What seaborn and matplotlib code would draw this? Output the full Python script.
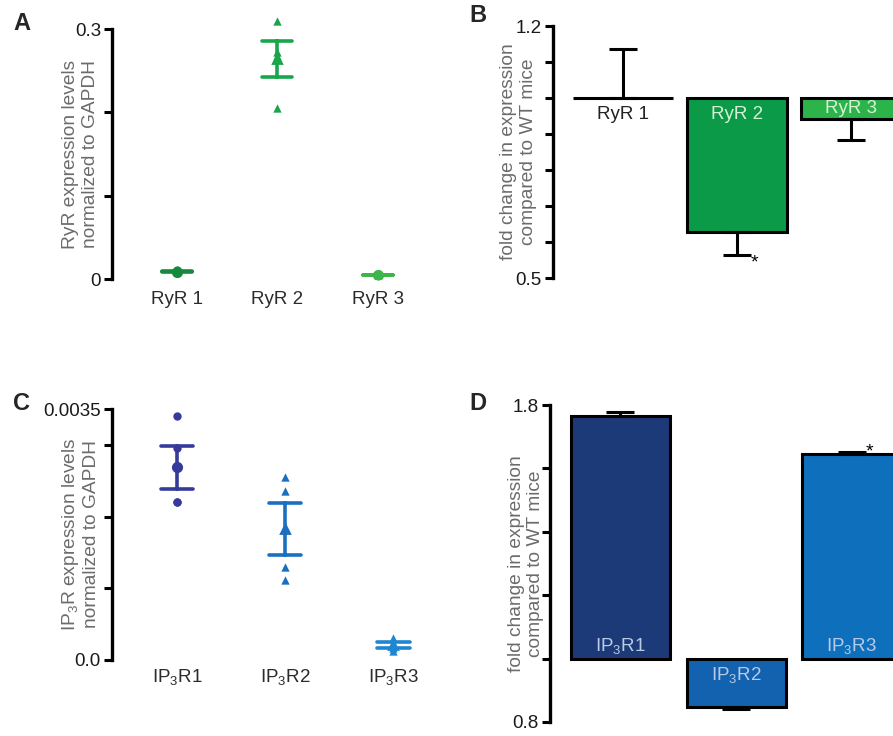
import numpy as np
import pandas as pd
import seaborn as sns
from matplotlib import pyplot as plt

# ---- data ----
RYR_NAMES = ["RyR 1", "RyR 2", "RyR 3"]
RYR1_POINTS = [0.0105, 0.0085, 0.0075, 0.0090]
RYR2_POINTS = [0.310, 0.272, 0.268, 0.205]
RYR3_POINTS = [0.0050, 0.0055, 0.0045, 0.0042]

IP3R_NAMES = ["IP$_3$R1", "IP$_3$R2", "IP$_3$R3"]
IP3R1_POINTS = [0.00340, 0.00295, 0.00220, 0.00220]
IP3R2_POINTS = [0.00255, 0.00236, 0.00129, 0.00111]
IP3R3_POINTS = [0.00030, 0.00023, 0.00017, 0.00013]

RYR_FOLD     = [1.000, 0.628, 0.943]
RYR_FOLD_ERR = [0.135, 0.065, 0.060]
RYR_SIG      = ["", "*", ""]

IP3R_FOLD     = [1.766, 0.848, 1.645]
IP3R_FOLD_ERR = [0.011, 0.008, 0.008]
IP3R_SIG      = ["", "", "*"]

# ---- style ----
RYR_PT_COLORS  = ["#17893d", "#19a64b", "#3db54a"]
IP3R_PT_COLORS = ["#363a9a", "#1b6fc0", "#1f86d2"]
RYR_BAR_COLORS  = ["white", "#0a9a48", "#2cb34a"]
RYR_TXT_COLORS  = ["#222222", "#d4f2d4", "#d4f2d4"]
IP3R_BAR_COLORS = ["#1c3a78", "#1262b0", "#0e70bd"]
IP3R_TXT_COLORS = ["#b8cbe6", "#b8cbe6", "#b8cbe6"]

YLAB_COLOR = "#6b6b6b"
TICK_COLOR = "#1a1a1a"

sns.set_style("ticks")
plt.rcParams["font.family"] = ["Liberation Sans", "DejaVu Sans"]
plt.rcParams["mathtext.fontset"] = "custom"
plt.rcParams["mathtext.rm"] = "Liberation Sans"
plt.rcParams["mathtext.it"] = "Liberation Sans:italic"
plt.rcParams["mathtext.bf"] = "Liberation Sans:bold"

W, H = 893, 736
fig = plt.figure(figsize=(W / 100, H / 100), dpi=100)


def px_axes(left, top, right, bottom):
    return fig.add_axes([left / W, 1 - bottom / H, (right - left) / W, (bottom - top) / H])


def style_axis(ax, ticks, labels):
    sns.despine(ax=ax, bottom=True)
    ax.spines["left"].set_linewidth(2.4)
    ax.spines["left"].set_color("black")
    ax.set_yticks(ticks)
    ax.set_yticklabels(labels)
    ax.tick_params(axis="y", length=6, width=2.2, color="black",
                   labelsize=13.5, labelcolor=TICK_COLOR, pad=2)
    ax.set_xlabel("")


def scatter_panel(ax, names, groups, colors, markers, ylim, ticks, labels, ylabel, xlim):
    df = pd.DataFrame({"receptor": np.repeat(names, [len(g) for g in groups]),
                       "value": np.concatenate(groups)})
    for name, color, marker in zip(names, colors, markers):
        sns.stripplot(data=df[df.receptor == name], x="receptor", y="value",
                      order=names, color=color, marker=marker, size=6,
                      jitter=False, ax=ax, clip_on=False)
    sns.pointplot(data=df, x="receptor", y="value", order=names,
                  hue="receptor", hue_order=names, palette=colors,
                  markers=markers, markersize=6, errorbar="se", capsize=0.3,
                  linestyle="none", err_kws={"linewidth": 2.6},
                  legend=False, ax=ax)
    ax.set_ylim(*ylim)
    ax.set_xlim(*xlim)
    style_axis(ax, ticks, labels)
    ax.tick_params(axis="x", length=0, labelsize=13.5, labelcolor="#2b2b2b", pad=9)
    ax.set_ylabel(ylabel, fontsize=13.8, color=YLAB_COLOR)


def bar_panel(ax, names, fold, err, sig, colors, txt_colors, ylim, ticks, labels,
              xlim, width, text_y):
    delta = np.array(fold) - 1
    df = pd.DataFrame({"receptor": names, "delta": delta})
    sns.barplot(data=df, x="receptor", y="delta", order=names, hue="receptor",
                hue_order=names, palette=colors, width=width, errorbar=None,
                edgecolor="black", linewidth=2.2, legend=False, ax=ax,
                saturation=1, clip_on=False)
    for i, (d, e, s) in enumerate(zip(delta, err, sig)):
        up = d >= 0
        ax.errorbar(i, d, yerr=[[0], [e]] if up else [[e], [0]], color="black",
                    elinewidth=2.2, capsize=10, capthick=2.2, clip_on=False)
        if s:
            y_s = d + e if up else d - e - 0.02
            ax.text(i + 0.15, y_s, s, fontsize=14, ha="center", va="center",
                    color="black")
    for i, (name, tc, ty) in enumerate(zip(names, txt_colors, text_y)):
        ax.text(i, ty - 1, name, ha="center", va="center", fontsize=13.5, color=tc)
    ax.set_ylim(ylim[0] - 1, ylim[1] - 1)
    ax.set_xlim(*xlim)
    style_axis(ax, np.array(ticks) - 1, labels)
    ax.set_xticks([])
    ax.set_ylabel("fold change in expression\ncompared to WT mice",
                  fontsize=13.8, color=YLAB_COLOR)


# A
axA = px_axes(112, 29, 442, 279)
scatter_panel(axA, RYR_NAMES, [RYR1_POINTS, RYR2_POINTS, RYR3_POINTS],
              RYR_PT_COLORS, ["o", "^", "o"], (0, 0.3),
              [0, 0.1, 0.2, 0.3], ["0", "", "", "0.3"],
              "RyR expression levels\nnormalized to GAPDH", (-0.647, 2.64))
axA.yaxis.set_label_coords(-0.04, 0.5)

# C
axC = px_axes(112, 409, 442, 660)
scatter_panel(axC, IP3R_NAMES, [IP3R1_POINTS, IP3R2_POINTS, IP3R3_POINTS],
              IP3R_PT_COLORS, ["o", "^", "^"], (0, 0.0035),
              [0, 0.001, 0.002, 0.003, 0.0035], ["0.0", "", "", "", "0.0035"],
              "IP$_3$R expression levels\nnormalized to GAPDH", (-0.602, 2.45))
axC.tick_params(axis="x", pad=5)
axC.yaxis.set_label_coords(-0.036, 0.5)

# B
axB = px_axes(553, 26, 893, 278)
bar_panel(axB, RYR_NAMES, RYR_FOLD, RYR_FOLD_ERR, RYR_SIG, RYR_BAR_COLORS,
          RYR_TXT_COLORS, (0.5, 1.2), np.arange(0.5, 1.25, 0.1),
          ["0.5", "", "", "", "", "", "", "1.2"], (-0.614, 2.368), 0.877,
          [0.955, 0.955, 0.972])
axB.yaxis.set_label_coords(-0.047, 0.5)

# D
axD = px_axes(550, 405, 893, 722)
bar_panel(axD, IP3R_NAMES, IP3R_FOLD, IP3R_FOLD_ERR, IP3R_SIG, IP3R_BAR_COLORS,
          IP3R_TXT_COLORS, (0.8, 1.8), [0.8, 1.0, 1.2, 1.4, 1.6, 1.8],
          ["0.8", "", "", "", "", "1.8"], (-0.609, 2.355), 0.856,
          [1.04, 0.947, 1.04])
axD.yaxis.set_label_coords(-0.017, 0.5)

for letter, (x, y) in zip("ABCD", [(22, 23), (478, 15), (22, 403), (478, 404)]):
    fig.text(x / W, 1 - y / H, letter, fontsize=17, fontweight="bold",
             ha="center", va="center")

fig.savefig("out.png", dpi=100)
